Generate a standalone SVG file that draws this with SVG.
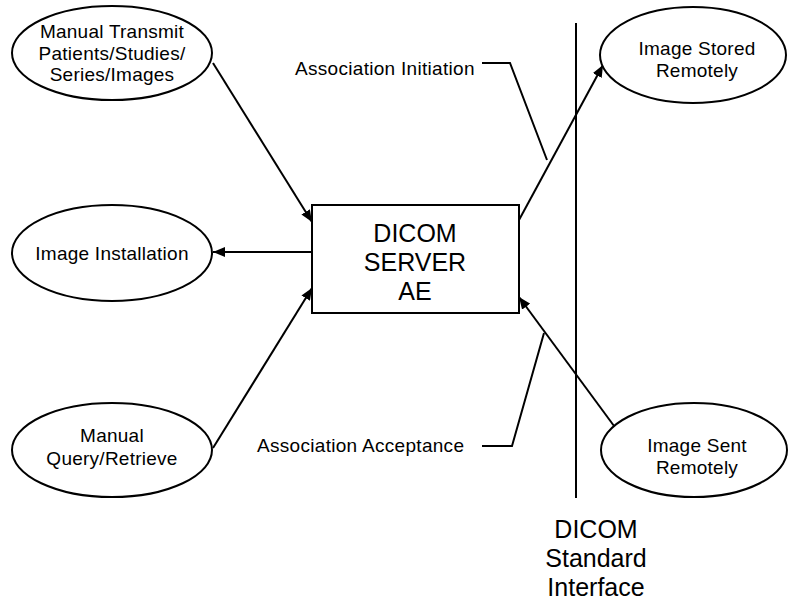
<svg xmlns="http://www.w3.org/2000/svg" width="788" height="604" viewBox="0 0 788 604">
<defs>
<style>
.shape{fill:#fff;stroke:#000;stroke-width:2}
.ln{fill:none;stroke:#000;stroke-width:2}
.t{font-family:"Liberation Sans",Arial,sans-serif;font-size:19px;letter-spacing:0.25px;fill:#000;text-anchor:middle}
.tl{font-family:"Liberation Sans",Arial,sans-serif;font-size:19px;letter-spacing:0.3px;fill:#000}
.big{font-family:"Liberation Sans",Arial,sans-serif;font-size:25px;fill:#000;text-anchor:middle}
</style>
<marker id="ah" viewBox="0 0 12 10" refX="12" refY="5" markerWidth="12" markerHeight="10" markerUnits="userSpaceOnUse" orient="auto">
<path d="M0,0 L12,5 L0,10 z" fill="#000"/>
</marker>
</defs>
<rect width="788" height="604" fill="#fff"/>
<g id="interface-line">
<line class="ln" x1="576" y1="23" x2="576" y2="498"/>
</g>
<g id="connectors">
<line class="ln" x1="213" y1="63" x2="312" y2="222" marker-end="url(#ah)"/>
<line class="ln" x1="312" y1="252" x2="213" y2="252" marker-end="url(#ah)"/>
<line class="ln" x1="213" y1="448" x2="312" y2="288" marker-end="url(#ah)"/>
<line class="ln" x1="519" y1="220" x2="603" y2="65" marker-end="url(#ah)"/>
<line class="ln" x1="617" y1="430" x2="519" y2="297" marker-end="url(#ah)"/>
<polyline class="ln" points="482,63 510,63 547,160"/>
<polyline class="ln" points="482,446 512,446 544,333"/>
</g>
<g id="node-manual-transmit">
<ellipse class="shape" cx="112" cy="53" rx="100" ry="47"/>
<text class="t" x="112" y="38">Manual Transmit</text>
<text class="t" x="112" y="60">Patients/Studies/</text>
<text class="t" x="112" y="81">Series/Images</text>
</g>
<g id="node-image-installation">
<ellipse class="shape" cx="112" cy="253" rx="100" ry="48"/>
<text class="t" x="112" y="260">Image Installation</text>
</g>
<g id="node-manual-query">
<ellipse class="shape" cx="112" cy="450" rx="100" ry="47"/>
<text class="t" x="112" y="442">Manual</text>
<text class="t" x="112" y="465">Query/Retrieve</text>
</g>
<g id="node-dicom-server">
<rect class="shape" x="312" y="205" width="207" height="108"/>
<text class="big" x="415" y="242">DICOM</text>
<text class="big" x="415" y="271">SERVER</text>
<text class="big" x="415" y="300">AE</text>
</g>
<g id="node-image-stored">
<ellipse class="shape" cx="693" cy="55" rx="93" ry="48"/>
<text class="t" x="697" y="55">Image Stored</text>
<text class="t" x="697" y="77">Remotely</text>
</g>
<g id="node-image-sent">
<ellipse class="shape" cx="694" cy="450" rx="93" ry="47"/>
<text class="t" x="697" y="452">Image Sent</text>
<text class="t" x="697" y="474">Remotely</text>
</g>
<g id="labels">
<text class="tl" x="295" y="75">Association Initiation</text>
<text class="tl" x="257" y="452">Association Acceptance</text>
<text class="big" x="596" y="538">DICOM</text>
<text class="big" x="596" y="567">Standard</text>
<text class="big" x="596" y="596">Interface</text>
</g>
</svg>
